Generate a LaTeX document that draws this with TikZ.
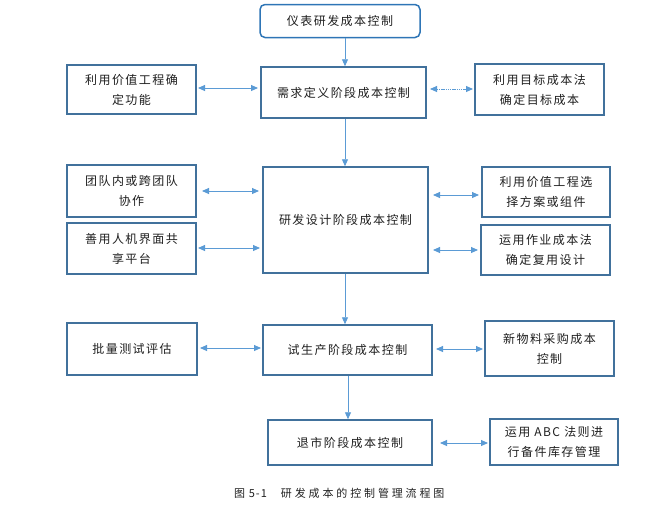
\documentclass[tikz,border=0pt]{standalone}
\usepackage{fontspec}
\setmainfont{Noto Sans CJK SC}
\newfontfamily\cjk[LetterSpace=12]{Noto Sans CJK SC}
\newfontfamily\capf[LetterSpace=26]{Noto Sans CJK SC}
\newfontfamily\capn[LetterSpace=10]{Noto Sans CJK SC}
\usetikzlibrary{arrows.meta}
\definecolor{boxc}{HTML}{41719C}
\definecolor{arrc}{HTML}{5B9BD5}
\definecolor{topc}{HTML}{2E75B6}
\definecolor{txt}{HTML}{1F1F1F}
\begin{document}
\begin{tikzpicture}[x=1pt,y=-1pt,
  bx/.style={draw=boxc,line width=1.5pt,fill=white,text=txt,align=center,font=\cjk\fontsize{12}{20}\selectfont,inner sep=0pt},
  ar/.style={draw=arrc,line width=0.9pt,-{Triangle[length=7pt,width=6pt]}},
  dar/.style={draw=arrc,line width=0.9pt,{Triangle[length=7pt,width=6pt]}-{Triangle[length=7pt,width=6pt]}}]
\useasboundingbox (0,0) rectangle (672,504);
\newcommand\boxat[6]{\node[bx,minimum width=#3-#1,minimum height=#4-#2] (#5) at ({(#1+#3)/2},{(#2+#4)/2}) {#6};}
\node[bx,draw=topc,rounded corners=5pt,minimum width=160,minimum height=33] (top) at (340,21) {仪表研发成本控制};
\boxat{261}{67}{426}{118}{req}{需求定义阶段成本控制}
\boxat{67}{65}{196}{114}{l1}{利用价值工程确\\定功能}
\boxat{475}{64}{604}{115}{r1}{利用目标成本法\\确定目标成本}
\boxat{263}{167}{428}{273}{des}{研发设计阶段成本控制}
\boxat{67}{165}{196}{217}{l2}{团队内或跨团队\\协作}
\boxat{67}{223}{196}{274}{l3}{善用人机界面共\\享平台}
\boxat{482}{167}{610}{217}{r2}{利用价值工程选\\择方案或组件}
\boxat{481}{225}{610}{275}{r3}{运用作业成本法\\确定复用设计}
\boxat{263}{325}{432}{375}{pro}{试生产阶段成本控制}
\boxat{67}{323}{197}{375}{l4}{批量测试评估}
\boxat{485}{321}{614}{376}{r4}{新物料采购成本\\控制}
\boxat{268}{420}{432}{465}{ret}{退市阶段成本控制}
\boxat{490}{419}{618}{465}{r5}{运用 ABC 法则进\\行备件库存管理}
% vertical arrows
\draw[ar] (top.south -| 345,0) -- (req.north -| 345,0);
\draw[ar] (req.south -| 345,0) -- (des.north -| 345,0);
\draw[ar] (des.south -| 345,0) -- (pro.north -| 345,0);
\draw[ar] (pro.south -| 348,0) -- (ret.north -| 348,0);
% horizontal double arrows
\coordinate (a1) at (198,88); \coordinate (b1) at (258,88);
\draw[dar] (a1) -- (b1);
\coordinate (a2) at (430,89); \coordinate (b2) at (473,89);
\draw[dar,dash pattern=on 1.5pt off 0.7pt] (a2) -- (b2);
\coordinate (a3) at (202,191); \coordinate (b3) at (259,191);
\draw[dar] (a3) -- (b3);
\coordinate (a4) at (198,248); \coordinate (b4) at (260,248);
\draw[dar] (a4) -- (b4);
\coordinate (a5) at (433,195); \coordinate (b5) at (479,195);
\draw[dar] (a5) -- (b5);
\coordinate (a6) at (433,250); \coordinate (b6) at (478,250);
\draw[dar] (a6) -- (b6);
\coordinate (a7) at (200,348); \coordinate (b7) at (261,348);
\draw[dar] (a7) -- (b7);
\coordinate (a8) at (436,349); \coordinate (b8) at (483,349);
\draw[dar] (a8) -- (b8);
\coordinate (a9) at (440,443); \coordinate (b9) at (488,443);
\draw[dar] (a9) -- (b9);
\node[text=txt,font=\fontsize{11}{12}\selectfont,anchor=west,inner sep=0pt] (cap) at (234,493) {{\capn 图 5-1}\hspace{14pt}{\capf 研发成本的控制管理流程图}};
\end{tikzpicture}
\end{document}
